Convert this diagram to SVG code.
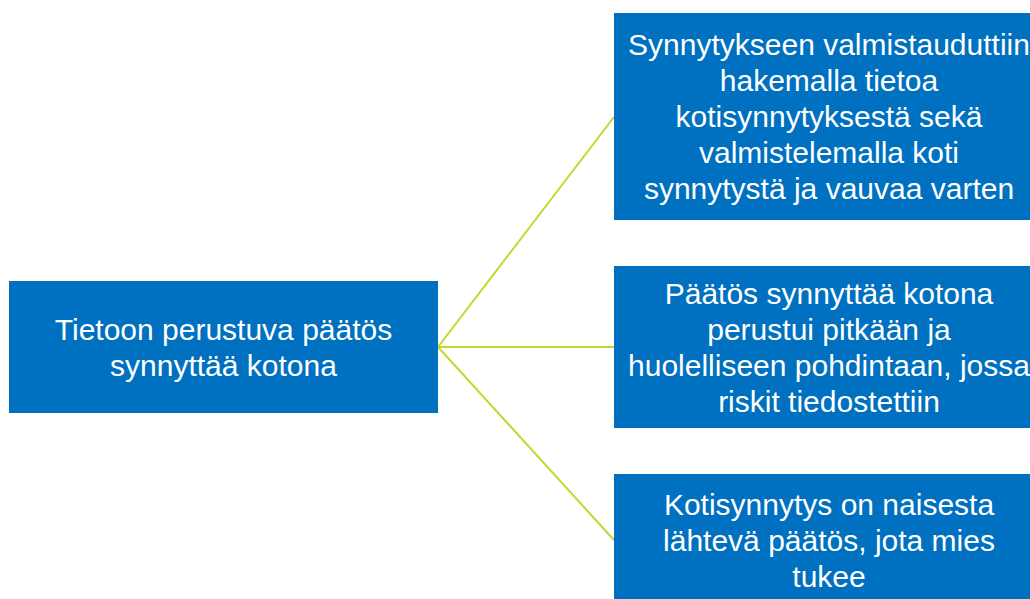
<svg xmlns="http://www.w3.org/2000/svg" width="1030" height="599" viewBox="0 0 1030 599">
<style>
.box{fill:#0070C0;}
.t{font-family:"Liberation Sans",Arial,sans-serif;font-size:30px;fill:#FFFFFF;text-anchor:middle;}
.c{stroke:#C3D82B;stroke-width:2;fill:none;}
</style>
<rect width="1030" height="599" fill="#FFFFFF"/>
<g id="connectors">
<line class="c" x1="438" y1="347" x2="614" y2="117"/>
<line class="c" x1="438" y1="347" x2="614" y2="347"/>
<line class="c" x1="438" y1="347" x2="614" y2="540"/>
</g>
<g id="root">
<rect class="box" x="9" y="281" width="429" height="132"/>
<text class="t" x="223.5" y="340">Tietoon perustuva päätös</text>
<text class="t" x="223.5" y="376">synnyttää kotona</text>
</g>
<g id="node1">
<rect class="box" x="614" y="13" width="430" height="207"/>
<text class="t" x="829" y="55">Synnytykseen valmistauduttiin</text>
<text class="t" x="829" y="91">hakemalla tietoa</text>
<text class="t" x="829" y="127">kotisynnytyksestä sekä</text>
<text class="t" x="829" y="163">valmistelemalla koti</text>
<text class="t" x="829" y="199">synnytystä ja vauvaa varten</text>
</g>
<g id="node2">
<rect class="box" x="614" y="266" width="430" height="162"/>
<text class="t" x="829" y="304">Päätös synnyttää kotona</text>
<text class="t" x="829" y="340">perustui pitkään ja</text>
<text class="t" x="829" y="376">huolelliseen pohdintaan, jossa</text>
<text class="t" x="829" y="412">riskit tiedostettiin</text>
</g>
<g id="node3">
<rect class="box" x="614" y="474" width="430" height="132"/>
<text class="t" x="829" y="515">Kotisynnytys on naisesta</text>
<text class="t" x="829" y="551">lähtevä päätös, jota mies</text>
<text class="t" x="829" y="587">tukee</text>
</g>
</svg>
